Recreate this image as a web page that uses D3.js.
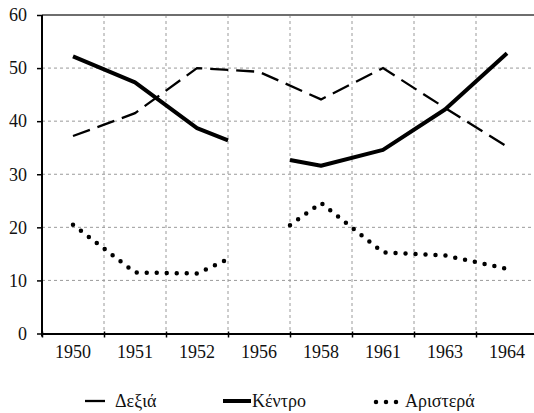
<!DOCTYPE html>
<html>
<head>
<meta charset="utf-8">
<script src="https://cdn.jsdelivr.net/npm/d3@7"></script>
<style>
  body { margin: 0; background: #fff; }
  text { font-family: "Liberation Serif", "Times New Roman", serif; font-size: 18px; fill: #111; }
</style>
</head>
<body>
<div id="chart"></div>
<script>
// election shares per year, 1956 left empty (values only reach the slot edge)
var years = ["1950", "1951", "1952", "1956", "1958", "1961", "1963", "1964"];
var dexia = [37.2, 41.5, 50.0, 49.3, 44.1, 50.0, 42.5, 35.2];
var kentro = [52.2, 47.3, 38.7, null, 31.6, 34.6, 42.2, 52.8];
var aristera = [20.5, 11.5, 11.3, null, 24.6, 15.3, 14.7, 12.2];
// value where the broken lines stop / restart at the edges of the empty slot
var kentroEdge = [36.4, 32.7];
var aristeraEdge = [14.0, 20.4];
var yTicks = [0, 10, 20, 30, 40, 50, 60];

var width = 534, height = 413;
var plotLeft = 42, plotRight = 538, plotTop = 15, plotBottom = 333.5;

var svg = d3.select("#chart").append("svg")
  .attr("width", width).attr("height", height);

var x = d3.scaleLinear().domain([0, years.length]).range([plotLeft, plotRight]);
var y = d3.scaleLinear().domain([0, 60]).range([plotBottom, plotTop]);

// grid
svg.append("g").selectAll("line")
  .data(yTicks.filter(function(d) { return d > 0 && d < 60; }))
  .enter().append("line")
  .attr("x1", plotLeft).attr("x2", plotRight)
  .attr("y1", function(d) { return y(d); }).attr("y2", function(d) { return y(d); })
  .attr("stroke", "#9a9a9a").attr("stroke-dasharray", "3,3");

svg.append("g").selectAll("line")
  .data(d3.range(1, years.length))
  .enter().append("line")
  .attr("x1", function(d) { return x(d); }).attr("x2", function(d) { return x(d); })
  .attr("y1", plotTop).attr("y2", plotBottom)
  .attr("stroke", "#9a9a9a").attr("stroke-dasharray", "3,3");

// top border
svg.append("line")
  .attr("x1", plotLeft).attr("x2", plotRight).attr("y1", plotTop).attr("y2", plotTop)
  .attr("stroke", "#6e6e6e").attr("stroke-width", 2);

// build points; null year -> stop at slot edge and restart at next edge
function points(vals, edge) {
  var pts = [];
  vals.forEach(function(v, i) {
    if (v === null) {
      pts.push({ x: i, y: edge[0] });
      pts.push(null);
      pts.push({ x: i + 1, y: edge[1] });
    } else {
      pts.push({ x: i + 0.5, y: v });
    }
  });
  return pts;
}

var line = d3.line()
  .defined(function(d) { return d !== null; })
  .x(function(d) { return x(d.x); })
  .y(function(d) { return y(d.y); });

svg.append("path")
  .datum(points(dexia))
  .attr("d", line)
  .attr("fill", "none").attr("stroke", "#000").attr("stroke-width", 2.3)
  .attr("stroke-dasharray", "18,8");

svg.append("path")
  .datum(points(kentro, kentroEdge))
  .attr("d", line)
  .attr("fill", "none").attr("stroke", "#000").attr("stroke-width", 4)
  .attr("stroke-linejoin", "round");

svg.append("path")
  .datum(points(aristera, aristeraEdge))
  .attr("d", line)
  .attr("fill", "none").attr("stroke", "#000").attr("stroke-width", 4.5)
  .attr("stroke-linecap", "round").attr("stroke-dasharray", "0,10");

// axes
var yAxis = svg.append("g")
  .attr("transform", "translate(" + plotLeft + ",0)")
  .call(d3.axisLeft(y).tickValues(yTicks).tickSize(5).tickPadding(10).tickSizeOuter(0));
yAxis.select(".domain").attr("stroke", "#000").attr("stroke-width", 2)
  .attr("d", "M0," + (plotBottom + 3) + "V" + plotTop);
yAxis.selectAll(".tick line").attr("stroke", "#000").attr("stroke-width", 1.5);
yAxis.selectAll(".tick text").style("font-size", "18px").style("font-family", "Liberation Serif");

var xAxis = svg.append("g")
  .attr("transform", "translate(0," + plotBottom + ")")
  .call(d3.axisBottom(x).tickValues(d3.range(0, years.length + 1)).tickSize(4).tickFormat("").tickSizeOuter(0));
xAxis.select(".domain").attr("stroke", "#000").attr("stroke-width", 2);
xAxis.selectAll(".tick line").attr("stroke", "#000").attr("stroke-width", 1.5).attr("y1", -2);

svg.append("g").selectAll("text")
  .data(years)
  .enter().append("text")
  .attr("x", function(d, i) { return x(i + 0.5); })
  .attr("y", 358)
  .attr("text-anchor", "middle")
  .text(function(d) { return d; });

// legend
var lg = svg.append("g");
lg.append("line").attr("x1", 85).attr("x2", 105).attr("y1", 401).attr("y2", 401)
  .attr("stroke", "#000").attr("stroke-width", 2.3);
lg.append("text").attr("x", 115).attr("y", 407).text("Δεξιά");
lg.append("line").attr("x1", 223).attr("x2", 251).attr("y1", 401).attr("y2", 401)
  .attr("stroke", "#000").attr("stroke-width", 4);
lg.append("text").attr("x", 252).attr("y", 407).text("Κέντρο");
lg.append("line").attr("x1", 376).attr("x2", 397).attr("y1", 402).attr("y2", 402)
  .attr("stroke", "#000").attr("stroke-width", 4.5)
  .attr("stroke-linecap", "round").attr("stroke-dasharray", "0,10");
lg.append("text").attr("x", 405).attr("y", 407).text("Αριστερά");
</script>
</body>
</html>
